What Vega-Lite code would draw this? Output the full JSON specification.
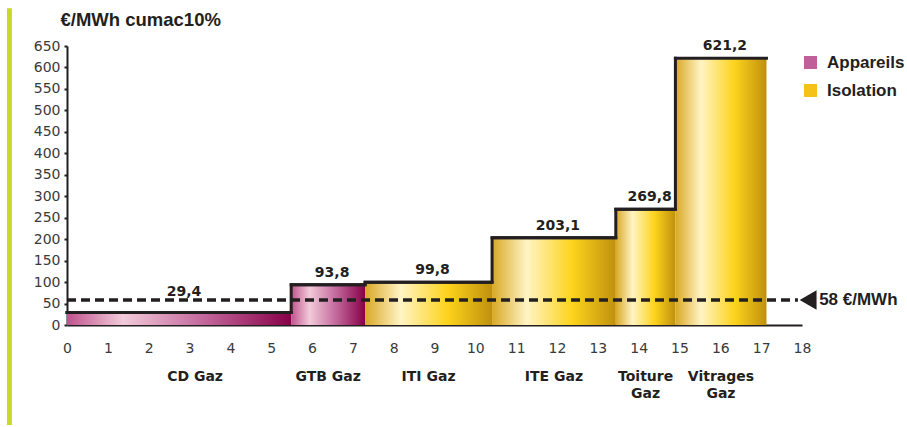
{
  "$schema": "https://vega.github.io/schema/vega-lite/v6.json",
  "autosize": {"type": "none"},
  "padding": {"left": 67, "top": 46, "right": 105, "bottom": 102},
  "width": 735,
  "height": 279,
  "background": "white",
  "config": {
    "font": "Liberation Sans",
    "view": {"stroke": null},
    "axis": {"grid": false}
  },
  "resolve": {"axis": {"x": "independent", "y": "independent"}},
  "datasets": {
    "bars": [
      {"cat": "CD Gaz", "type": "Appareils", "x0": 0, "x1": 5.49, "value": 29.4, "label": "29,4"},
      {"cat": "GTB Gaz", "type": "Appareils", "x0": 5.49, "x1": 7.3, "value": 93.8, "label": "93,8"},
      {"cat": "ITI Gaz", "type": "Isolation", "x0": 7.3, "x1": 10.41, "value": 99.8, "label": "99,8"},
      {"cat": "ITE Gaz", "type": "Isolation", "x0": 10.41, "x1": 13.44, "value": 203.1, "label": "203,1"},
      {"cat": "Toiture\nGaz", "type": "Isolation", "x0": 13.44, "x1": 14.9, "value": 269.8, "label": "269,8"},
      {"cat": "Vitrages\nGaz", "type": "Isolation", "x0": 14.9, "x1": 17.13, "value": 621.2, "label": "621,2"}
    ],
    "ref": [{"threshold": 58, "xstart": 0, "xend": 17.9, "xmark": 18.15, "label": "58 €/MWh"}],
    "deco": [{"xpos": -1.41, "top": 738, "bottom": -233}]
  },
  "layer": [
    {
      "data": {"name": "bars"},
      "transform": [{"calculate": "(datum.x0 + datum.x1) / 2", "as": "mid"}],
      "mark": {"type": "square", "size": 20, "opacity": 1, "yOffset": 6},
      "encoding": {
        "x": {"field": "mid", "type": "quantitative", "scale": {"domain": [0, 18], "nice": false},
          "axis": {"values": [0,1,2,3,4,5,6,7,8,9,10,11,12,13,14,15,16,17,18], "title": null, "tickSize": 0, "labelPadding": 16, "labelFont": "DejaVu Sans", "labelFontSize": 14, "labelColor": "#3a3a3a", "domainColor": "#231f20", "domainWidth": 2, "labelFlush": false, "labelOverlap": false}},
        "y": {"field": "value", "type": "quantitative", "scale": {"domain": [0, 650], "nice": false},
          "axis": {"values": [0,50,100,150,200,250,300,350,400,450,500,550,600,650], "title": "€/MWh cumac10%", "titleAngle": 0, "titleAlign": "left", "titleBaseline": "alphabetic", "titleX": -7, "titleY": -21, "titleFontSize": 18.5, "titleFontWeight": "bold", "titleColor": "#231f20", "tickSize": 3, "tickColor": "#231f20", "tickWidth": 2, "labelPadding": 4, "labelFont": "DejaVu Sans", "labelFontSize": 14, "labelColor": "#3a3a3a", "domainColor": "#231f20", "domainWidth": 2, "labelOverlap": false}},
        "color": {"field": "type", "type": "nominal",
          "scale": {"domain": ["Appareils", "Isolation"], "range": ["#c0609a", "#f5c21a"]},
          "legend": {"title": null, "orient": "none", "legendX": 735, "legendY": 8, "symbolType": "square", "symbolSize": 169, "symbolStrokeWidth": 0, "labelFontSize": 17, "labelFontWeight": "bold", "labelColor": "#231f20", "labelOffset": 8, "rowPadding": 10}}
      }
    },
    {
      "data": {"name": "bars"},
      "transform": [{"filter": "datum.type === 'Appareils'"}],
      "mark": {"type": "rect", "fill": {"gradient": "linear", "x1": 0, "x2": 1, "y1": 0, "y2": 0, "stops": [
        {"offset": 0, "color": "#c0528e"}, {"offset": 0.25, "color": "#f2cad9"}, {"offset": 0.6, "color": "#c46a9e"}, {"offset": 1, "color": "#870048"}]}},
      "encoding": {"x": {"field": "x0", "type": "quantitative", "axis": null}, "x2": {"field": "x1"}, "y": {"field": "value", "type": "quantitative", "axis": null}, "y2": {"datum": 0}}
    },
    {
      "data": {"name": "bars"},
      "transform": [{"filter": "datum.type === 'Isolation'"}],
      "mark": {"type": "rect", "fill": {"gradient": "linear", "x1": 0, "x2": 1, "y1": 0, "y2": 0, "stops": [
        {"offset": 0, "color": "#d9a826"}, {"offset": 0.28, "color": "#fff4c4"}, {"offset": 0.65, "color": "#fdd31c"}, {"offset": 1, "color": "#bf900e"}]}},
      "encoding": {"x": {"field": "x0", "type": "quantitative", "axis": null}, "x2": {"field": "x1"}, "y": {"field": "value", "type": "quantitative", "axis": null}, "y2": {"datum": 0}}
    },
    {
      "data": {"name": "bars"},
      "mark": {"type": "line", "interpolate": "step-after", "color": "#231f20", "strokeWidth": 3, "strokeCap": "square"},
      "encoding": {"x": {"field": "x0", "type": "quantitative", "axis": null}, "y": {"field": "value", "type": "quantitative", "axis": null}, "order": {"field": "x0"}}
    },
    {
      "data": {"name": "bars"},
      "mark": {"type": "rule", "color": "#231f20", "strokeWidth": 3, "strokeCap": "square"},
      "encoding": {"x": {"field": "x0", "type": "quantitative", "axis": null}, "x2": {"field": "x1"}, "y": {"field": "value", "type": "quantitative", "axis": null}}
    },
    {
      "data": {"name": "bars"},
      "transform": [{"calculate": "(datum.x0 + datum.x1) / 2", "as": "mid"}, {"filter": "datum.cat !== 'CD Gaz'"}],
      "mark": {"type": "text", "font": "DejaVu Sans", "fontSize": 14, "fontWeight": "bold", "color": "#231f20", "baseline": "middle", "dy": -12, "dx": 4},
      "encoding": {"x": {"field": "mid", "type": "quantitative", "axis": null}, "y": {"field": "value", "type": "quantitative", "axis": null}, "text": {"field": "label"}}
    },
    {
      "data": {"name": "bars"},
      "transform": [{"calculate": "(datum.x0 + datum.x1) / 2", "as": "mid"}, {"filter": "datum.cat === 'CD Gaz'"}],
      "mark": {"type": "text", "font": "DejaVu Sans", "fontSize": 14, "fontWeight": "bold", "color": "#231f20", "baseline": "middle", "dy": -20, "dx": 5},
      "encoding": {"x": {"field": "mid", "type": "quantitative", "axis": null}, "y": {"field": "value", "type": "quantitative", "axis": null}, "text": {"field": "label"}}
    },
    {
      "data": {"name": "bars"},
      "transform": [{"calculate": "(datum.x0 + datum.x1) / 2", "as": "mid"}, {"filter": "datum.cat !== 'CD Gaz'"}],
      "mark": {"type": "text", "font": "DejaVu Sans", "fontSize": 14, "fontWeight": "bold", "color": "#231f20", "baseline": "top", "dy": 45, "lineBreak": "\n", "lineHeight": 17},
      "encoding": {"x": {"field": "mid", "type": "quantitative", "axis": null}, "y": {"datum": 0, "type": "quantitative", "axis": null}, "text": {"field": "cat"}}
    },
    {
      "data": {"name": "bars"},
      "transform": [{"calculate": "(datum.x0 + datum.x1) / 2", "as": "mid"}, {"filter": "datum.cat === 'CD Gaz'"}],
      "mark": {"type": "text", "font": "DejaVu Sans", "fontSize": 14, "fontWeight": "bold", "color": "#231f20", "baseline": "top", "dy": 45, "dx": 16},
      "encoding": {"x": {"field": "mid", "type": "quantitative", "axis": null}, "y": {"datum": 0, "type": "quantitative", "axis": null}, "text": {"field": "cat"}}
    },
    {
      "data": {"name": "ref"},
      "mark": {"type": "rule", "color": "#231f20", "strokeWidth": 3.5, "strokeDash": [9, 5]},
      "encoding": {"x": {"field": "xstart", "type": "quantitative", "axis": null}, "x2": {"field": "xend"}, "y": {"field": "threshold", "type": "quantitative", "axis": null}}
    },
    {
      "data": {"name": "ref"},
      "mark": {"type": "point", "shape": "triangle-left", "filled": true, "color": "#231f20", "size": 380, "opacity": 1},
      "encoding": {"x": {"field": "xmark", "type": "quantitative", "axis": null}, "y": {"field": "threshold", "type": "quantitative", "axis": null}}
    },
    {
      "data": {"name": "ref"},
      "mark": {"type": "text", "fontSize": 17, "fontWeight": "bold", "color": "#231f20", "align": "left", "baseline": "middle", "dx": 11},
      "encoding": {"x": {"field": "xmark", "type": "quantitative", "axis": null}, "y": {"field": "threshold", "type": "quantitative", "axis": null}, "text": {"field": "label"}}
    },
    {
      "data": {"name": "deco"},
      "mark": {"type": "rule", "color": "#c8d92a", "strokeWidth": 5},
      "encoding": {"x": {"field": "xpos", "type": "quantitative", "axis": null}, "y": {"field": "top", "type": "quantitative", "axis": null}, "y2": {"field": "bottom"}}
    }
  ]
}
